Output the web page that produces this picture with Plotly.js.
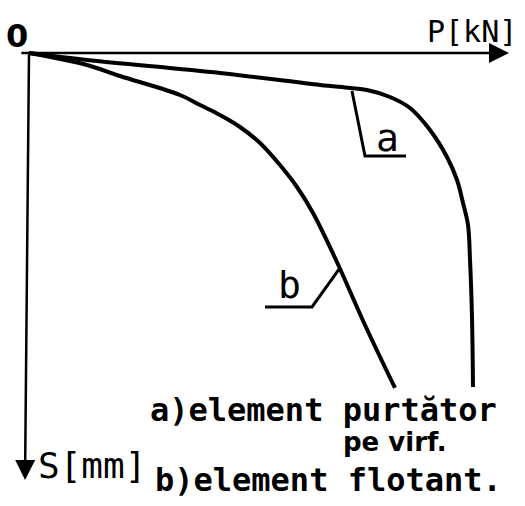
<!DOCTYPE html>
<html>
<head>
<meta charset="utf-8">
<script src="https://cdn.plot.ly/plotly-3.0.1.min.js"></script>
<style>html,body{margin:0;padding:0;background:#fff;}#chart{width:525px;height:506px;}</style>
</head>
<body>
<div id="chart"></div>
<script>
// Curve a) element purtator pe virf (end-bearing pile): load P [kN] vs settlement S [mm]
const P_a = [0, 12.08, 39.79, 60.63, 66.88, 70.42, 75.21, 79.38, 83.54, 87.08, 89.17, 90.42, 91.46, 91.88, 92.29, 92.50];
const S_a = [0, 1.64, 4.68, 7.49, 8.20, 8.67, 10.30, 12.88, 18.03, 24.36, 29.74, 35.13, 40.28, 48.48, 61.83, 78.22];
// Curve b) element flotant (floating pile)
const P_b = [0, 12.08, 18.96, 31.46, 35.63, 39.79, 43.96, 48.13, 52.29, 55.83, 59.17, 63.96, 70.00, 76.25];
const S_b = [0, 2.81, 5.39, 9.84, 12.18, 14.52, 17.33, 21.08, 26.23, 31.38, 37.47, 48.48, 63.70, 78.45];
// leader lines for the curve labels
const leaderA_P = [67.29, 70.0, 78.54];
const leaderA_S = [8.90, 24.12, 24.12];
const leaderB_P = [64.79, 58.96, 49.17];
const leaderB_S = [50.35, 59.48, 59.48];
// texts
const curveLabels = ['a', 'b'];
const legendLines = ['a)element purtător', 'pe virf.', 'b)element flotant.'];
const axisLabels = {x: 'P[kN]', y: 'S[mm]', origin: '0'};

const W = 525, H = 506;
const px = v => v / W, py = v => 1 - v / H;
const ink = '#000';
const mono = '"DejaVu Sans Mono", monospace';
const sans = '"DejaVu Sans", sans-serif';

const traces = [
  {x: P_a, y: S_a, mode: 'lines', line: {color: ink, width: 4, shape: 'spline', smoothing: 1}, hoverinfo: 'skip'},
  {x: P_b, y: S_b, mode: 'lines', line: {color: ink, width: 4, shape: 'spline', smoothing: 1}, hoverinfo: 'skip'},
  {x: leaderA_P, y: leaderA_S, mode: 'lines', line: {color: ink, width: 3}, hoverinfo: 'skip'},
  {x: leaderB_P, y: leaderB_S, mode: 'lines', line: {color: ink, width: 3}, hoverinfo: 'skip'}
];

const txt = (t, x, y, size, fam, wt) => ({
  text: t, xref: 'paper', yref: 'paper', x: px(x), y: py(y),
  xanchor: 'center', yanchor: 'middle', showarrow: false,
  font: {family: fam || mono, size: size, color: ink, weight: wt || 'bold'}
});

const annotations = [
  // axes drawn as arrows
  {x: 100, y: 0, ax: -1.9, ay: 0, xref: 'x', yref: 'y', axref: 'x', ayref: 'y', text: '',
   showarrow: true, arrowhead: 2, arrowsize: 1.6, arrowwidth: 2.5, arrowcolor: ink, standoff: 0, startstandoff: 0},
  {x: -0.83, y: 100, ax: 0, ay: 0, xref: 'x', yref: 'y', axref: 'x', ayref: 'y', text: '',
   showarrow: true, arrowhead: 2, arrowsize: 1.6, arrowwidth: 2.5, arrowcolor: ink, standoff: 0, startstandoff: 0},
  txt(axisLabels.origin, 17, 36, 32, sans),
  txt(axisLabels.x, 472, 32, 30, mono, 'normal'),
  txt(axisLabels.y, 92, 465, 36, mono, 'normal'),
  txt(curveLabels[0], 387, 138, 38, mono, 'normal'),
  txt(curveLabels[1], 289, 285, 38, mono, 'normal'),
  txt(legendLines[0], 323, 410, 32),
  txt(legendLines[1], 395, 442, 26, sans),
  txt(legendLines[2], 328, 480, 32)
];

const layout = {
  width: W, height: H,
  margin: {l: 0, r: 0, t: 0, b: 0},
  paper_bgcolor: '#fff', plot_bgcolor: '#fff',
  showlegend: false,
  xaxis: {range: [-29 / 4.8, (W - 29) / 4.8], visible: false, fixedrange: true},
  yaxis: {range: [(H - 53) / 4.27, -53 / 4.27], visible: false, fixedrange: true},
  annotations: annotations
};

Plotly.newPlot('chart', traces, layout, {displayModeBar: false, staticPlot: true});
</script>
</body>
</html>
